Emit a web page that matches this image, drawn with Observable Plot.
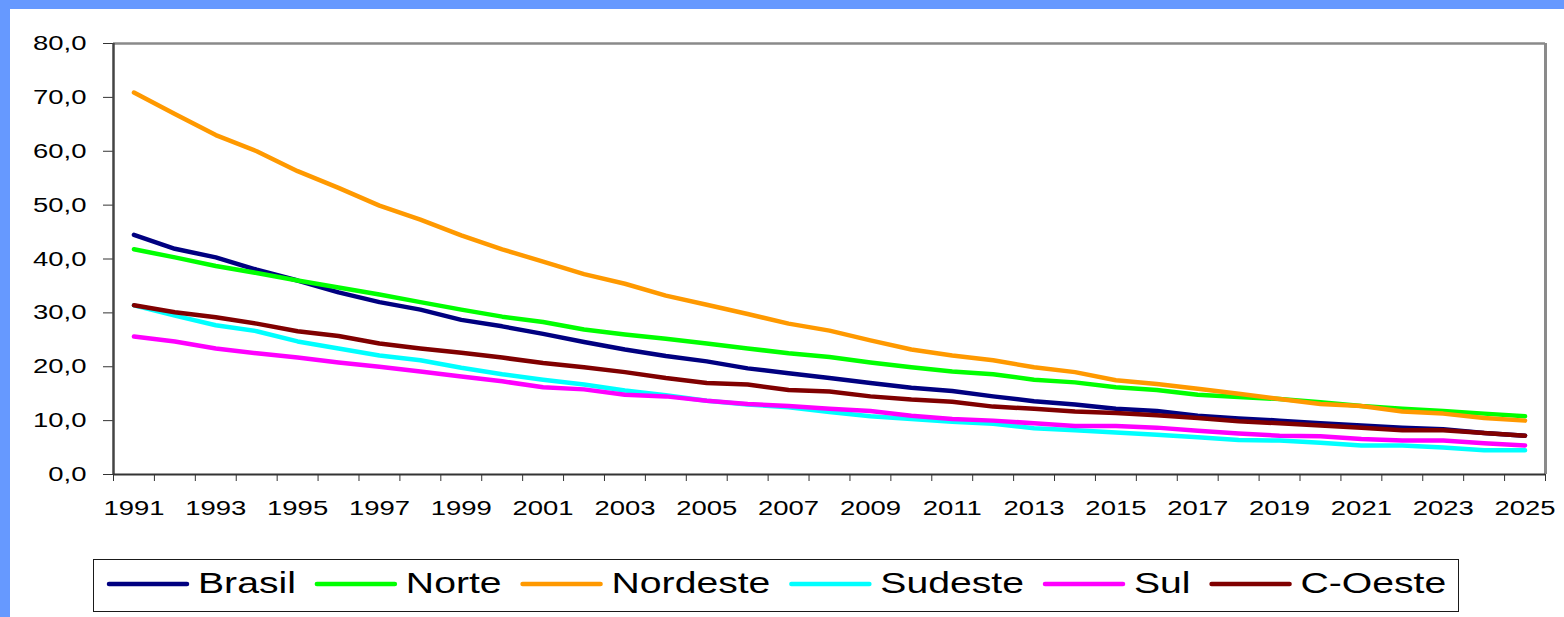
<!DOCTYPE html>
<html><head><meta charset="utf-8">
<script src="https://cdn.jsdelivr.net/npm/d3@7"></script>
<script src="https://cdn.jsdelivr.net/npm/@observablehq/plot@0.6"></script>
<style>
html,body{margin:0;padding:0;width:1564px;height:617px;overflow:hidden;background:#6699ff;}
#panel{position:absolute;left:10px;top:9px;width:1554px;height:608px;background:#fff;}
#chart{position:absolute;left:0;top:0;}
#legend{position:absolute;left:83px;top:550px;width:1364px;height:51px;border:1px solid #1a1a1a;background:#fff;}
</style></head>
<body><div id="panel"><div id="chart"></div><div id="legend"></div></div>
<script>
const years = [1991,1992,1993,1994,1995,1996,1997,1998,1999,2000,2001,2002,2003,2004,2005,2006,2007,2008,2009,2010,2011,2012,2013,2014,2015,2016,2017,2018,2019,2020,2021,2022,2023,2024,2025];
const xLabelYears = [1991,1993,1995,1997,1999,2001,2003,2005,2007,2009,2011,2013,2015,2017,2019,2021,2023,2025];
const yTicks = [0,10,20,30,40,50,60,70,80];
const seriesNames = ["Brasil","Norte","Nordeste","Sudeste","Sul","C-Oeste"];
const seriesColors = ["#000080","#00ff00","#ff9900","#00ffff","#ff00ff","#800000"];

const brasil   = [44.5,41.9,40.3,38.0,36.0,33.8,32.0,30.6,28.7,27.5,26.1,24.6,23.2,22.0,21.0,19.7,18.8,17.9,17.0,16.1,15.5,14.5,13.6,13.0,12.2,11.8,10.9,10.4,10.0,9.5,9.1,8.7,8.4,7.7,7.2];
const norte    = [41.8,40.3,38.7,37.4,36.0,34.7,33.4,32.0,30.6,29.3,28.3,26.9,26.0,25.2,24.3,23.4,22.5,21.8,20.8,19.9,19.1,18.6,17.6,17.1,16.2,15.7,14.8,14.4,14.0,13.4,12.7,12.2,11.8,11.3,10.8];
const nordeste = [70.9,66.9,63.0,60.0,56.3,53.2,49.9,47.3,44.4,41.8,39.5,37.2,35.4,33.2,31.5,29.8,28.0,26.7,24.9,23.2,22.1,21.2,19.9,19.0,17.5,16.8,15.9,15.0,14.0,13.1,12.7,11.7,11.3,10.5,10.0];
const sudeste  = [31.4,29.5,27.7,26.6,24.7,23.4,22.1,21.2,19.8,18.6,17.6,16.7,15.6,14.7,13.7,13.0,12.5,11.6,10.8,10.3,9.8,9.4,8.6,8.2,7.8,7.4,6.9,6.4,6.3,5.9,5.4,5.4,5.0,4.5,4.5];
const sul      = [25.6,24.7,23.4,22.5,21.7,20.8,20.0,19.1,18.2,17.3,16.2,15.8,14.8,14.5,13.7,13.1,12.7,12.2,11.8,10.9,10.3,10.0,9.5,9.0,9.0,8.7,8.1,7.6,7.2,7.1,6.6,6.3,6.3,5.8,5.4];
const coeste   = [31.4,30.1,29.2,28.0,26.6,25.7,24.3,23.4,22.6,21.7,20.7,19.9,19.0,17.9,17.0,16.7,15.7,15.4,14.5,13.9,13.5,12.6,12.2,11.7,11.4,11.0,10.5,9.9,9.5,9.1,8.7,8.2,8.2,7.7,7.2];
const seriesValues = [brasil, norte, nordeste, sudeste, sul, coeste];

const data = [];
seriesNames.forEach((name, i) => seriesValues[i].forEach((v, j) => data.push({series: name, year: years[j], value: v})));
const xBoundaries = years.map(y => y - 0.5).concat([years[years.length - 1] + 0.5]);
const xMin = xBoundaries[0], xMax = xBoundaries[xBoundaries.length - 1];

const FONT = "'Liberation Sans', Arial, sans-serif";
const SX = 1.34;
const fmt = d => d.toFixed(1).replace(".", ",");

const chart = Plot.plot({
  width: 1554, height: 540,
  marginLeft: 103, marginRight: 19, marginTop: 34, marginBottom: 75,
  style: {fontFamily: FONT, fontSize: "20.5px", color: "#000", background: "transparent", overflow: "visible"},
  x: {type: "linear", domain: [xMin, xMax], label: null},
  y: {domain: [0, 80], label: null},
  color: {domain: seriesNames, range: seriesColors},
  marks: [
    Plot.ruleY([80], {stroke: "#8a8a8a", strokeWidth: 2.5}),
    Plot.ruleX([xMax], {stroke: "#8a8a8a", strokeWidth: 3}),
    Plot.axisY({ticks: yTicks, tickSize: 10, tickPadding: 17, tickFormat: fmt, stroke: "#333"}),
    Plot.axisX({ticks: xBoundaries, tickSize: 7, tickFormat: () => "", stroke: "#333"}),
    Plot.axisX({ticks: xLabelYears, tickSize: 0, tickPadding: 26, tickFormat: d => String(d)}),
    Plot.ruleX([xMin], {stroke: "#444", strokeWidth: 2.5}),
    Plot.ruleY([0], {stroke: "#333", strokeWidth: 2}),
    Plot.line(data, {x: "year", y: "value", z: "series", stroke: "series", strokeWidth: 4.5, strokeLinejoin: "round", strokeLinecap: "round"})
  ]
});
document.getElementById("chart").appendChild(chart);

function stretch(el, sx) {
  const x = el.getAttribute("x");
  let tr = el.getAttribute("transform") || "";
  if (x !== null) { tr += ` translate(${x},0)`; el.removeAttribute("x"); }
  el.setAttribute("transform", `${tr} scale(${sx},1)`);
}
chart.querySelectorAll("text").forEach(t => stretch(t, SX));

// legend
const LSX = 1.35;
const leg = d3.select("#legend").append("svg").attr("width", 1364).attr("height", 51).style("display", "block");
let cx = 15;
seriesNames.forEach((name, i) => {
  leg.append("line").attr("x1", cx).attr("x2", cx + 78).attr("y1", 24).attr("y2", 24)
    .attr("stroke", seriesColors[i]).attr("stroke-width", 4.5).attr("stroke-linecap", "round");
  const tx = cx + 89;
  const t = leg.append("text").attr("transform", `translate(${tx},32.5) scale(${LSX},1)`)
    .attr("font-family", FONT).attr("font-size", 29).attr("fill", "#000").text(name);
  const w = t.node().getComputedTextLength() * LSX;
  cx = tx + w + 21;
});
</script>
</body></html>
